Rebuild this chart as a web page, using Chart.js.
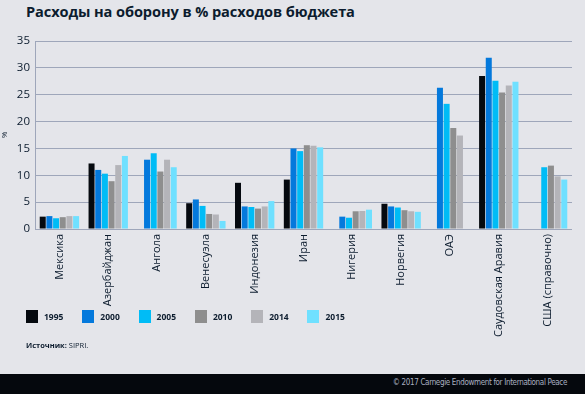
<!DOCTYPE html>
<html lang="ru">
<head>
  <meta charset="UTF-8">
  <title>Расходы на оборону</title>
  <script src="https://cdn.jsdelivr.net/npm/chart.js"></script>
  <style>
    body { margin: 0; width: 585px; height: 394px; background: #e4e5ea; font-family: "Open Sans", sans-serif; color: #0c1c2e; position: relative; overflow: hidden; }
    #titulo { position: absolute; left: 26px; top: 1px; font-size: 14.6px; font-weight: bold; letter-spacing: -0.1px; }
    #grafico { position: absolute; left: 0; top: 0; }
    #leyenda { position: absolute; left: 26px; top: 310px; display: flex; }
    #leyenda .item { width: 56.3px; display: flex; align-items: center; font-size: 8.5px; font-weight: bold; }
    #leyenda .caja { width: 12px; height: 13px; margin-right: 6px; }
    #fuente { position: absolute; left: 26px; top: 340px; font-size: 7.5px; }
    #pie { position: absolute; left: 0; top: 374px; width: 585px; height: 20px; background: #05080d; }
    #pie span { position: absolute; right: 18px; top: 4px; font-size: 8px; letter-spacing: -0.35px; color: #a9b0c0; font-family: "Liberation Sans Narrow", "DejaVu Sans Condensed", sans-serif; }
  </style>
</head>
<body>
  <div id="titulo">Расходы на оборону в % расходов бюджета</div>
  <canvas id="grafico" width="585" height="394"></canvas>
  <div id="leyenda"></div>
  <div id="fuente"><b>Источник:</b> SIPRI.</div>
  <div id="pie"><span>© 2017 Carnegie Endowment for International Peace</span></div>

  <script>
    // Datos
    const paises = ['Мексика', 'Азербайджан', 'Ангола', 'Венесуэла', 'Индонезия', 'Иран', 'Нигерия', 'Норвегия', 'ОАЭ', 'Саудовская Аравия', 'США (справочно)'];
    const anios = ['1995', '2000', '2005', '2010', '2014', '2015'];
    const v1995 = [2.3, 12.2, null, 4.8, 8.6, 9.2, null, 4.7, null, 28.5, null];
    const v2000 = [2.4, 11.0, 12.9, 5.5, 4.2, 15.0, 2.3, 4.2, 26.3, 31.9, null];
    const v2005 = [2.0, 10.3, 14.1, 4.3, 4.1, 14.5, 2.1, 4.0, 23.3, 27.6, 11.5];
    const v2010 = [2.2, 8.9, 10.7, 2.8, 3.8, 15.6, 3.3, 3.5, 18.8, 25.4, 11.8];
    const v2014 = [2.4, 11.9, 12.9, 2.7, 4.2, 15.5, 3.35, 3.3, 17.4, 26.7, 9.8];
    const v2015 = [2.4, 13.6, 11.5, 1.5, 5.2, 15.2, 3.6, 3.2, null, 27.4, 9.2];
    const yTicks = [0, 5, 10, 15, 20, 25, 30, 35];

    const colores = ['#05090f', '#0479dc', '#00bcf6', '#8e8e8e', '#b4b4b9', '#6fe0ff'];
    const series = [v1995, v2000, v2005, v2010, v2014, v2015];

    // Leyenda HTML
    const leyenda = document.getElementById('leyenda');
    anios.forEach((a, i) => {
      const item = document.createElement('div');
      item.className = 'item';
      item.innerHTML = '<div class="caja" style="background:' + colores[i] + '"></div>' + a;
      leyenda.appendChild(item);
    });

    const texto = '#0c1c2e';
    new Chart(document.getElementById('grafico'), {
      type: 'bar',
      data: {
        labels: paises,
        datasets: anios.map((a, i) => ({
          label: a,
          data: series[i],
          backgroundColor: colores[i],
          categoryPercentage: 0.82,
          barPercentage: 0.9
        }))
      },
      options: {
        responsive: false,
        animation: false,
        layout: { padding: { left: 0, top: 41, right: 13, bottom: 0 } },
        plugins: { legend: { display: false }, tooltip: { enabled: false } },
        scales: {
          x: {
            grid: { display: false, drawTicks: false },
            border: { display: false },
            ticks: {
              minRotation: 90, maxRotation: 90, padding: 5,
              color: texto, font: { family: 'Open Sans', size: 11 }
            },
            afterFit: s => { s.height = 165; }
          },
          y: {
            min: 0, max: 35,
            afterBuildTicks: s => { s.ticks = yTicks.map(v => ({ value: v })); },
            grid: { color: '#9ea6ba', lineWidth: 1, drawTicks: false },
            border: { display: true, color: '#9ea6ba' },
            ticks: { padding: 5, color: texto, font: { family: 'Open Sans', size: 11.5 } },
            title: { display: true, text: '%', color: texto, font: { family: 'Open Sans', size: 8 }, padding: 0 },
            afterFit: s => { s.width = 35; }
          }
        }
      }
    });
  </script>
</body>
</html>
